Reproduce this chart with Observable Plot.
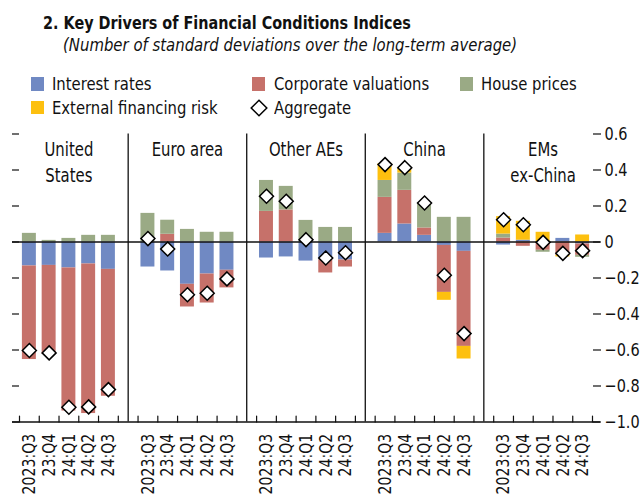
<!DOCTYPE html>
<html>
<head>
<meta charset="utf-8">
<script src="https://cdn.jsdelivr.net/npm/d3@7"></script>
<script src="https://cdn.jsdelivr.net/npm/@observablehq/plot@0.6"></script>
<style>
  html, body { margin: 0; padding: 0; background: #fff; overflow: hidden; }
  body { font-family: "DejaVu Sans Condensed", "Liberation Sans Narrow", sans-serif; color: #111; }
  #header { position: relative; width: 644px; height: 122px; }
  #header .t { position: absolute; white-space: nowrap; line-height: 1; transform-origin: 0 0; }
  #header .sw { position: absolute; }
  #chart svg { display: block; }
</style>
</head>
<body>
<div id="header"></div>
<div id="chart"></div>
<script>
// ---------------- data ----------------
const titleText = "2. Key Drivers of Financial Conditions Indices";
const subtitleText = "(Number of standard deviations over the long-term average)";
const panels = ["United\nStates", "Euro area", "Other AEs", "China", "EMs\nex-China"];
const quarters = ["2023:Q3", "23:Q4", "24:Q1", "24:Q2", "24:Q3"];
const seriesNames = ["Interest rates", "Corporate valuations", "House prices", "External financing risk"];
const aggregateName = "Aggregate";
const seriesColors = ["#7089C3", "#C6716A", "#9AAA85", "#FDC00F"];

// values per panel (5 quarters each): US, Euro area, Other AEs, China, EMs ex-China
const interestRates = [
  -0.133, -0.130, -0.144, -0.122, -0.152,
  -0.139, -0.161, -0.235, -0.178, -0.157,
  -0.089, -0.083, -0.106, -0.098, -0.100,
   0.048,  0.100,  0.037, -0.019, -0.052,
  -0.017,  0.010,  0.000,  0.020, -0.011
];
const corporateValuations = [
  -0.520, -0.494, -0.795, -0.831, -0.705,
   0.000,  0.043, -0.126, -0.161, -0.098,
   0.170,  0.178,  0.000, -0.074, -0.039,
   0.200,  0.187,  0.041, -0.261, -0.528,
   0.022, -0.024, -0.046, -0.074, -0.063
];
const housePrices = [
   0.048,  0.009,  0.020,  0.037,  0.037,
   0.159,  0.078,  0.070,  0.054,  0.054,
   0.172,  0.131,  0.120,  0.081,  0.081,
   0.094,  0.096,  0.139,  0.137,  0.137,
   0.022,  0.000, -0.011,  0.000, -0.011
];
const externalFinancingRisk = [
   0.000,  0.000,  0.000,  0.000,  0.000,
   0.000,  0.000,  0.000,  0.000,  0.000,
   0.000,  0.000,  0.000,  0.000,  0.000,
   0.093,  0.025,  0.000, -0.044, -0.070,
   0.097,  0.105,  0.054, -0.009,  0.039
];
const aggregate = [
  -0.603, -0.616, -0.918, -0.916, -0.820,
   0.019, -0.039, -0.293, -0.285, -0.205,
   0.254,  0.226,  0.013, -0.089, -0.060,
   0.430,  0.413,  0.217, -0.185, -0.509,
   0.124,  0.096, -0.002, -0.063, -0.048
];
const yTicks = [0.6, 0.4, 0.2, 0, -0.2, -0.4, -0.6, -0.8, -1.0];
const yDomain = [-1.0, 0.6];

// ---------------- header (title + legend) ----------------
const FONT = '"DejaVu Sans Condensed", "Liberation Sans Narrow", sans-serif';
const header = document.getElementById("header");
function addText(txt, left, baseline, size, sx, extra = "") {
  const d = document.createElement("div");
  d.className = "t";
  d.textContent = txt;
  d.style.cssText = `left:${left}px;top:${baseline - 0.846 * size}px;font-size:${size}px;transform:scaleX(${sx});${extra}`;
  header.appendChild(d);
}
addText(titleText, 43.3, 29.3, 18.2, 0.88, "font-weight:bold;");
addText(subtitleText, 63, 51.7, 18.5, 0.895, "font-style:italic;");

const legendItems = [
  {name: seriesNames[0], color: seriesColors[0], sx: 31, tx: 52.3, row: 0},
  {name: seriesNames[1], color: seriesColors[1], sx: 251.7, tx: 274.3, row: 0},
  {name: seriesNames[2], color: seriesColors[2], sx: 460, tx: 481, row: 0},
  {name: seriesNames[3], color: seriesColors[3], sx: 31, tx: 52.3, row: 1},
  {name: aggregateName, color: null, sx: 251, tx: 274.3, row: 1}
];
const rowBase = [90.7, 114.3];
for (const it of legendItems) {
  const base = rowBase[it.row];
  if (it.color) {
    const s = document.createElement("div");
    s.className = "sw";
    s.style.cssText = `left:${it.sx}px;top:${base - 13.4}px;width:13.4px;height:13.4px;background:${it.color};`;
    header.appendChild(s);
  } else {
    const ns = "http://www.w3.org/2000/svg";
    const svg = document.createElementNS(ns, "svg");
    svg.setAttribute("width", 18); svg.setAttribute("height", 18);
    svg.style.cssText = `position:absolute;left:${it.sx - 1}px;top:${base - 15}px;`;
    const p = document.createElementNS(ns, "path");
    p.setAttribute("d", "M9,1.2 L16.8,9 L9,16.8 L1.2,9 Z");
    p.setAttribute("fill", "white"); p.setAttribute("stroke", "black"); p.setAttribute("stroke-width", "1.5");
    svg.appendChild(p);
    header.appendChild(svg);
  }
  addText(it.name, it.tx, base, 18.2, 0.905);
}

// ---------------- chart ----------------
const nQ = quarters.length;
const slotsPerPanel = nQ + 1;                    // one blank slot between panels
const totalSlots = panels.length * slotsPerPanel - 1;
const slotOf = (pi, qi) => pi * slotsPerPanel + qi;
const seriesArrays = [interestRates, corporateValuations, housePrices, externalFinancingRisk];

const barRows = [];
const aggRows = [];
const labelRows = [];
panels.forEach((p, pi) => {
  quarters.forEach((q, qi) => {
    const k = pi * nQ + qi;
    seriesArrays.forEach((arr, si) => barRows.push({slot: slotOf(pi, qi), series: seriesNames[si], value: arr[k]}));
    aggRows.push({slot: slotOf(pi, qi), value: aggregate[k]});
    labelRows.push({slot: slotOf(pi, qi), text: q});
  });
});
const panelRows = panels.map((name, pi) => ({slot: slotOf(pi, (nQ - 1) / 2), name}));
const separators = panels.slice(1).map((_, pi) => slotOf(pi, nQ));
const boundaries = d3.range(totalSlots + 1);
const fmt = d => d === 0 ? "0" : d3.format(".1f")(d);
const tickShape = {draw(context, l) { context.moveTo(0, 0); context.lineTo(0, -l); }};

const chart = Plot.plot({
  width: 644,
  height: 377,
  marginTop: 11.5,
  marginBottom: 77.5,
  marginLeft: 19,
  marginRight: 52,
  x: {domain: [0, totalSlots], axis: null},
  y: {domain: yDomain, axis: null},
  color: {domain: seriesNames, range: seriesColors},
  style: {fontFamily: FONT, background: "white", overflow: "visible", color: "#111"},
  marks: [
    Plot.rectY(barRows, {x: "slot", interval: 1, y: "value", fill: "series", insetLeft: 2.9, insetRight: 2.9}),
    Plot.ruleX(separators, {x: d => d + 0.5, y1: yDomain[0], y2: yDomain[1], stroke: "#111", strokeWidth: 1.3}),
    Plot.ruleY([0, yDomain[0]], {stroke: "#111", strokeWidth: 1.5, insetLeft: -7, insetRight: -8}),
    Plot.vector(boundaries, {x: d => d, y: () => yDomain[0], length: 6, anchor: "start", shape: tickShape, stroke: "#111", strokeWidth: 1.2}),
    Plot.axisY({anchor: "left", ticks: yTicks, tickSize: 7, tickFormat: () => "", label: null, strokeWidth: 1.2}),
    Plot.axisY({anchor: "right", ticks: yTicks, tickSize: 8, tickPadding: 4, tickFormat: fmt, label: null, fontSize: 18.5, strokeWidth: 1.2}),
    Plot.dot(aggRows, {x: d => d.slot + 0.5, y: "value", symbol: "diamond2", r: 6.3, fill: "white", stroke: "black", strokeWidth: 1.5}),
    Plot.text(labelRows, {x: d => d.slot + 0.5, y: () => yDomain[0], text: "text", rotate: -90, textAnchor: "end", dy: 11.8, fontSize: 18, fill: "#111"}),
    Plot.text(panelRows, {x: d => d.slot + 0.5, y: () => yDomain[1], text: "name", lineAnchor: "top", lineHeight: 1.35, dy: 4, fontSize: 19, fill: "#111"})
  ]
});

// condense the chart's text horizontally (the reference uses a condensed face)
const CONDENSE = 0.87;
chart.querySelectorAll("text").forEach(t => {
  const tr = t.getAttribute("transform");
  if (tr) {
    t.setAttribute("transform", `${tr} scale(${CONDENSE},1)`);
  } else {
    const x = +(t.getAttribute("x") || 0), y = +(t.getAttribute("y") || 0);
    t.removeAttribute("x"); t.removeAttribute("y");
    t.setAttribute("transform", `translate(${x},${y}) scale(${CONDENSE},1)`);
  }
});
document.getElementById("chart").appendChild(chart);
</script>
</body>
</html>
